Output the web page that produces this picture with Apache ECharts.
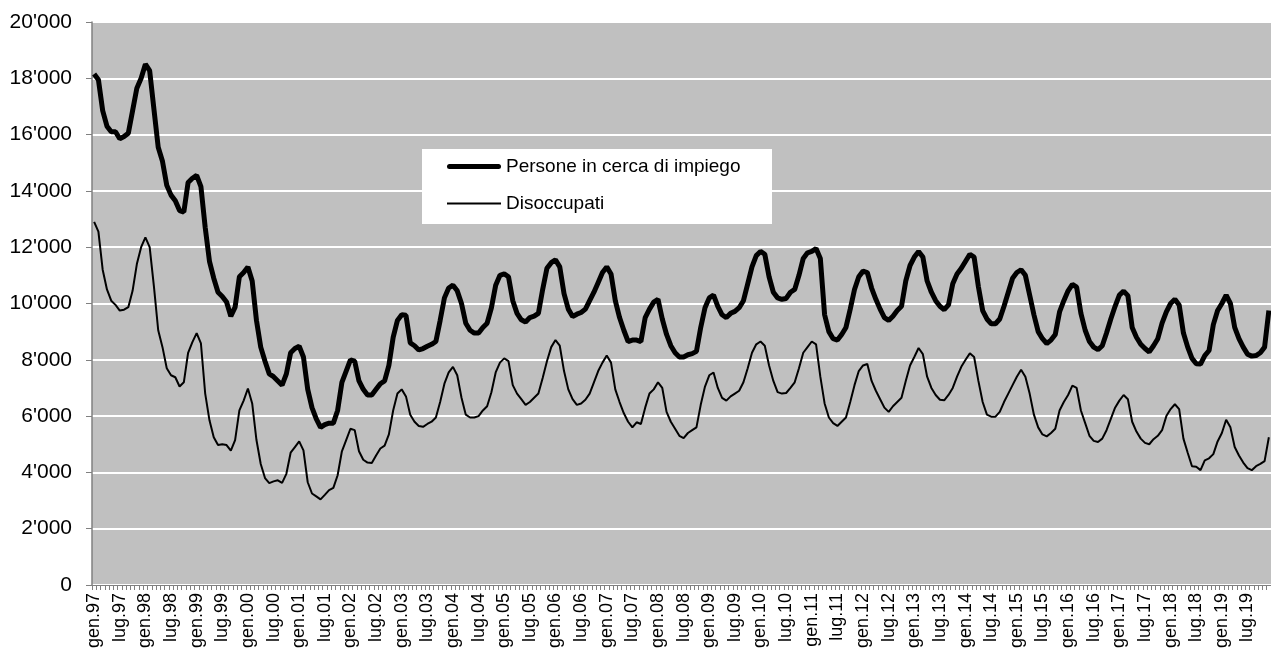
<!DOCTYPE html>
<html>
<head>
<meta charset="utf-8">
<script src="https://cdn.jsdelivr.net/npm/echarts@6/dist/echarts.min.js"></script>
<style>
html,body{margin:0;padding:0;background:#fff;}
#chart{width:1271px;height:652px;}
</style>
</head>
<body>
<div id="chart"></div>
<script>
// Month abbreviations and years for the category axis (gen.97 ... dic.19)
const monthNames = ['gen','feb','mar','apr','mag','giu','lug','ago','set','ott','nov','dic'];
const years = ['97','98','99','00','01','02','03','04','05','06','07','08','09','10','11','12','13','14','15','16','17','18','19'];

// Persone in cerca di impiego (monthly, one row per year)
const persone = [
  18150, 17950, 16850, 16300, 16100, 16100, 15850, 15930, 16050, 16850, 17650, 18000,
  18500, 18270, 16900, 15550, 15050, 14200, 13850, 13650, 13300, 13250, 14300, 14450,
  14550, 14150, 12700, 11500, 10900, 10400, 10250, 10050, 9550, 9870, 10950, 11100,
  11300, 10800, 9400, 8450, 7950, 7500, 7400, 7250, 7100, 7500, 8250, 8400,
  8480, 8100, 6950, 6300, 5900, 5600, 5700, 5750, 5750, 6200, 7200, 7600,
  8000, 7950, 7250, 6950, 6750, 6750, 6950, 7150, 7250, 7800, 8800, 9400,
  9600, 9580, 8600, 8500, 8350, 8400, 8480, 8550, 8650, 9400, 10200, 10550,
  10650, 10450, 10000, 9300, 9050, 8950, 8950, 9150, 9300, 9850, 10650, 11000,
  11050, 10950, 10100, 9650, 9420, 9340, 9500, 9550, 9650, 10500, 11250, 11450,
  11550, 11300, 10350, 9800, 9540, 9620, 9680, 9800, 10100, 10400, 10750, 11100,
  11300, 11050, 10100, 9500, 9050, 8650, 8700, 8700, 8650, 9500, 9800, 10050,
  10150, 9450, 8900, 8500, 8250, 8100, 8100, 8180, 8220, 8300, 9150, 9850,
  10200, 10300, 9900, 9600, 9500, 9650, 9720, 9850, 10100, 10700, 11300, 11700,
  11850, 11750, 10950, 10400, 10200, 10150, 10180, 10400, 10500, 11000, 11600, 11800,
  11850, 11950, 11600, 9600, 9000, 8750, 8700, 8900, 9150, 9800, 10500, 10950,
  11150, 11100, 10550, 10150, 9800, 9500, 9400, 9550, 9750, 9900, 10800, 11350,
  11650, 11850, 11650, 10800, 10400, 10100, 9900, 9780, 9950, 10700, 11050, 11250,
  11500, 11750, 11650, 10600, 9750, 9450, 9280, 9280, 9450, 9900, 10400, 10900,
  11100, 11200, 11000, 10300, 9600, 9000, 8750, 8580, 8700, 8900, 9700, 10100,
  10450, 10680, 10580, 9650, 9050, 8650, 8450, 8360, 8500, 8950, 9450, 9900,
  10300, 10440, 10280, 9150, 8800, 8550, 8400, 8280, 8500, 8750, 9300, 9700,
  10000, 10150, 9950, 8950, 8450, 8050, 7860, 7850, 8150, 8330, 9250, 9750,
  10000, 10300, 10000, 9150, 8750, 8450, 8200, 8130, 8150, 8250, 8450, 9750
];

// Disoccupati (monthly, one row per year)
const disoccupati = [
  12900, 12550, 11200, 10500, 10100, 9950, 9750, 9780, 9870, 10450, 11400, 12000,
  12350, 12000, 10600, 9050, 8450, 7700, 7450, 7380, 7050, 7200, 8250, 8630,
  8950, 8580, 6800, 5850, 5250, 4970, 5000, 4970, 4770, 5150, 6200, 6550,
  6980, 6450, 5150, 4300, 3800, 3620, 3680, 3720, 3630, 3950, 4700, 4900,
  5100, 4780, 3650, 3250, 3150, 3040, 3200, 3370, 3450, 3900, 4750, 5150,
  5550, 5500, 4750, 4450, 4350, 4330, 4600, 4850, 4950, 5350, 6200, 6800,
  6950, 6700, 6050, 5800, 5650, 5620, 5720, 5800, 5950, 6500, 7150, 7550,
  7750, 7450, 6650, 6050, 5950, 5950, 6000, 6200, 6350, 6850, 7550, 7900,
  8050, 7950, 7100, 6800, 6600, 6400, 6500, 6650, 6800, 7350, 7950, 8450,
  8700, 8500, 7600, 6950, 6600, 6400, 6450, 6580, 6800, 7200, 7600, 7900,
  8150, 7900, 6950, 6500, 6100, 5800, 5600, 5780, 5720, 6300, 6800, 6950,
  7200, 7000, 6150, 5800, 5550, 5300, 5220, 5400, 5500, 5600, 6400, 7050,
  7450, 7550, 7000, 6650, 6550, 6700, 6800, 6900, 7200, 7700, 8250, 8550,
  8650, 8500, 7800, 7250, 6850, 6800, 6820, 7000, 7200, 7700, 8250, 8450,
  8650, 8550, 7400, 6450, 5950, 5750, 5650, 5800, 5950, 6500, 7100, 7600,
  7800, 7850, 7250, 6900, 6600, 6300, 6150, 6350, 6500, 6650, 7250, 7800,
  8100, 8420, 8200, 7400, 7000, 6750, 6580, 6560, 6750, 7000, 7400, 7750,
  8000, 8230, 8100, 7250, 6500, 6050, 5980, 5980, 6150, 6500, 6800, 7100,
  7400, 7650, 7400, 6800, 6050, 5600, 5350, 5280, 5400, 5550, 6200, 6500,
  6750, 7080, 7000, 6200, 5750, 5300, 5120, 5080, 5200, 5500, 5900, 6300,
  6550, 6750, 6600, 5800, 5450, 5200, 5050, 5000, 5180, 5300, 5500, 6000,
  6250, 6420, 6250, 5200, 4700, 4220, 4200, 4080, 4430, 4500, 4650, 5100,
  5400, 5870, 5600, 4900, 4600, 4350, 4150, 4080, 4220, 4300, 4400, 5250
];

const yTicks = {min: 0, max: 20000, interval: 2000};

const categories = [];
years.forEach(y => monthNames.forEach(m => categories.push(m + '.' + y)));

function fmtThousands(v) {
  return String(v).replace(/\B(?=(\d{3})+(?!\d))/g, "'");
}

const FONT = '"Liberation Sans", Arial, sans-serif';
const chart = echarts.init(document.getElementById('chart'), null, {renderer: 'canvas'});
chart.setOption({
  animation: false,
  backgroundColor: '#ffffff',
  grid: {
    left: 92, right: 0, top: 22, bottom: 67,
    show: true, backgroundColor: '#C0C0C0', borderWidth: 0
  },
  graphic: [{
    type: 'rect', z: 50,
    shape: {x: 422, y: 149, width: 350, height: 75},
    style: {fill: '#ffffff', stroke: null}
  }],
  legend: {
    z: 60,
    left: 447, top: 157,
    orient: 'vertical',
    padding: 0,
    itemGap: 18,
    itemWidth: 54, itemHeight: 20,
    symbolKeepAspect: true,
    selectedMode: false,
    textStyle: {fontFamily: FONT, fontSize: 19, color: '#000'},
    data: [
      {name: 'Persone in cerca di impiego', icon: 'path://M2.5,0H51.5A2.5,2.5,0,0,1,51.5,5H2.5A2.5,2.5,0,0,1,2.5,0Z'},
      {name: 'Disoccupati', icon: 'path://M0,0H54V2H0Z'}
    ]
  },
  xAxis: {
    type: 'category',
    data: categories,
    boundaryGap: true,
    axisLine: {show: true, lineStyle: {color: '#808080', width: 1}},
    axisTick: {show: true, interval: 0, length: 5, lineStyle: {color: '#808080'}},
    axisLabel: {
      interval: 5, rotate: 90, margin: 8,
      fontFamily: FONT, fontSize: 18, color: '#000'
    },
    splitLine: {show: false}
  },
  yAxis: {
    type: 'value',
    min: yTicks.min, max: yTicks.max, interval: yTicks.interval,
    axisLine: {show: true, lineStyle: {color: '#808080', width: 1.5}},
    axisTick: {show: true, length: 6, lineStyle: {color: '#808080'}},
    axisLabel: {
      margin: 20, fontFamily: FONT, fontSize: 21, color: '#000',
      formatter: v => fmtThousands(v)
    },
    splitLine: {show: true, lineStyle: {color: '#ffffff', width: 2}}
  },
  series: [
    {
      name: 'Persone in cerca di impiego',
      type: 'line', data: persone,
      symbol: 'none', smooth: false,
      lineStyle: {color: '#000', width: 5},
      itemStyle: {color: '#000'},
      z: 3
    },
    {
      name: 'Disoccupati',
      type: 'line', data: disoccupati,
      symbol: 'none', smooth: false,
      lineStyle: {color: '#000', width: 2},
      itemStyle: {color: '#000'},
      z: 3
    }
  ]
});
</script>
</body>
</html>
